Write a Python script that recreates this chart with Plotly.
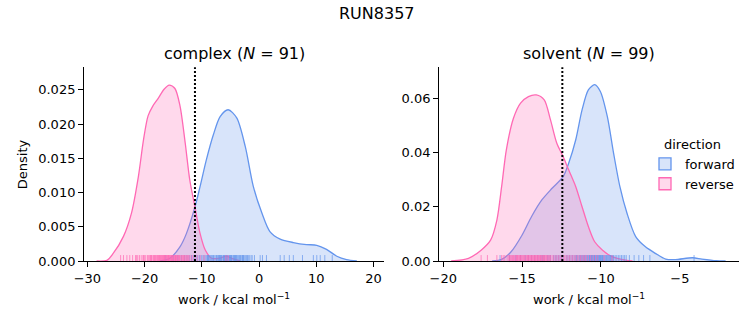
import plotly.graph_objects as go

# ---------------- data ----------------
complex_fwd_x = [-17.3, -15.6, -13.8, -12.7, -11.2, -10.3, -9.2, -8.0, -6.8, -5.4, -3.9, -2.4, -1.0, 0.5, 1.9, 3.7, 6.0, 8.3, 10.1, 11.8, 13.6, 15.3, 17.1]
complex_fwd_y = [0, 0.0004, 0.0021, 0.004, 0.0079, 0.0109, 0.0148, 0.0184, 0.0211, 0.0221, 0.0209, 0.0167, 0.0109, 0.007, 0.0043, 0.0032, 0.0027, 0.0024, 0.0023, 0.0017, 0.0007, 0.0002, 0]
complex_rev_x = [-28.4, -26.6, -25.5, -23.7, -22.3, -21.1, -20.2, -19.4, -18.6, -17.6, -16.6, -15.7, -14.7, -13.8, -12.9, -12.1, -11.2, -10.3, -9.4, -8.3, -7.0, -5.7, -4.5, -3.3]
complex_rev_y = [0, 0.0001, 0.0011, 0.0036, 0.007, 0.0123, 0.0177, 0.0212, 0.0226, 0.0238, 0.0251, 0.0257, 0.0252, 0.0226, 0.0172, 0.0118, 0.0079, 0.004, 0.0016, 0.0004, 0.0004, 0.0007, 0.0003, 0]

solvent_fwd_x = [-16.9, -16.3, -15.7, -15.0, -14.4, -13.75, -13.1, -12.4, -12.05, -11.6, -11.2, -10.8, -10.4, -10.04, -9.6, -9.2, -8.8, -8.35, -7.8, -7.2, -6.55, -5.9, -5.3, -4.2, -3.6, -2.7, -2.1]
solvent_fwd_y = [0, 0.0006, 0.0034, 0.0096, 0.0164, 0.0225, 0.0268, 0.0311, 0.036, 0.0447, 0.0557, 0.0631, 0.065, 0.0625, 0.0533, 0.0397, 0.0274, 0.0176, 0.009, 0.0053, 0.0028, 0.0007, 0.0005, 0.0012, 0.0007, 0.0001, 0]
solvent_rev_x = [-19.5, -18.4, -17.6, -17.0, -16.6, -16.3, -16.0, -15.55, -15.1, -14.6, -14.1, -13.6, -13.2, -12.8, -12.4, -12.05, -11.6, -11.2, -10.8, -10.4, -9.9, -9.3, -8.7, -8.0]
solvent_rev_y = [0, 0.001, 0.004, 0.0077, 0.0151, 0.0274, 0.041, 0.0526, 0.0582, 0.0606, 0.0612, 0.0594, 0.052, 0.0434, 0.0385, 0.0336, 0.0274, 0.02, 0.0127, 0.0071, 0.004, 0.0016, 0.0006, 0]

complex_rug_fwd = [-16.3, -15.0, -14.2, -13.6, -13.0, -12.6, -12.2, -11.8, -11.4, -11.0, -10.7, -10.4, -10.1, -9.8, -9.6, -9.3, -9.1, -8.9, -8.7, -8.5, -8.3, -8.1, -7.9, -7.7, -7.5, -7.3, -7.1, -6.9, -6.7, -6.5, -6.3, -6.1, -6.0, -5.8, -5.6, -5.5, -5.3, -5.1, -5.0, -4.8, -4.7, -4.5, -4.3, -4.2, -4.0, -3.8, -3.6, -3.4, -3.2, -3.0, -2.8, -2.6, -2.4, -2.2, -2.0, -1.7, -1.4, 0.2, 0.6, 1.3, 3.7, 4.4, 5.3, 6.0, 7.6, 9.5, 10.1, 10.7, 11.5, 12.8,
                   -8.8, -7.4, -6.6, -5.7, -4.9, -4.1, -3.3, -2.7, -6.2, -5.2, -7.0, -8.0, -9.0, -4.4, -5.9, -3.9, -6.8, -2.9, -1.9, -1.2, -0.8]
complex_rug_rev = [-24.2, -23.7, -23.1, -22.6, -22.1, -21.6, -21.2, -20.9, -20.6, -20.3, -20.0, -19.8, -19.5, -19.3, -19.1, -18.9, -18.7, -18.5, -18.3, -18.1, -17.9, -17.8, -17.6, -17.4, -17.3, -17.1, -17.0, -16.8, -16.7, -16.5, -16.4, -16.2, -16.1, -15.9, -15.8, -15.6, -15.5, -15.3, -15.2, -15.0, -14.9, -14.7, -14.6, -14.4, -14.2, -14.0, -13.8, -13.6, -13.4, -13.2, -13.0, -12.8, -12.5, -12.2, -11.9, -11.6, -11.2, -10.8, -10.3, -9.6, -5.8, -5.4,
                   -19.0, -18.4, -17.7, -17.2, -16.9, -16.6, -16.3, -16.0, -15.7, -15.4, -15.1, -14.8, -14.5, -14.3, -14.1, -13.9, -13.5, -13.1, -12.7, -12.3, -18.8, -18.2, -17.5, -16.5, -15.8, -15.2, -14.6, -20.2, -21.4]
solvent_rug_fwd = [-16.4, -15.8, -15.4, -15.1, -14.8, -14.6, -14.4, -14.2, -14.0, -13.8, -13.6, -13.4, -13.2, -13.0, -12.8, -12.6, -12.4, -12.2, -12.0, -11.9, -11.7, -11.6, -11.5, -11.4, -11.3, -11.2, -11.1, -11.0, -10.9, -10.85, -10.8, -10.75, -10.7, -10.65, -10.6, -10.55, -10.5, -10.45, -10.4, -10.35, -10.3, -10.25, -10.2, -10.15, -10.1, -10.05, -10.0, -9.95, -9.9, -9.85, -9.8, -9.7, -9.6, -9.5, -9.4, -9.3, -9.2, -9.1, -9.0, -8.9, -8.8, -8.6, -8.4, -8.2, -7.9, -7.6, -7.3, -6.9, -4.1,
                   -13.3, -12.9, -12.5, -12.1, -11.8, -11.55, -11.35, -11.15, -10.95, -10.72, -10.62, -10.52, -10.42, -10.32, -10.22, -10.12, -10.02, -9.92, -9.75, -9.65, -9.55, -9.45, -9.35, -9.25, -11.05, -11.25, -12.7, -13.7, -8.7, -8.5]
solvent_rug_rev = [-17.6, -17.2, -16.6, -16.3, -16.1, -15.95, -15.8, -15.7, -15.6, -15.5, -15.4, -15.3, -15.2, -15.1, -15.0, -14.9, -14.8, -14.7, -14.6, -14.5, -14.4, -14.3, -14.2, -14.1, -14.0, -13.9, -13.8, -13.7, -13.6, -13.5, -13.4, -13.3, -13.2, -13.0, -12.8, -12.6, -12.5, -12.3, -12.1, -11.9, -11.7, -11.5, -11.3, -11.1, -10.8, -10.5, -10.2, -9.8, -9.3,
                   -15.85, -15.75, -15.65, -15.55, -15.45, -15.35, -15.25, -15.15, -15.05, -14.95, -14.85, -14.75, -14.65, -14.55, -14.45, -14.35, -14.25, -14.15, -14.05, -13.95, -13.85, -13.75, -13.65, -13.55, -13.45, -13.35, -13.25, -13.1, -12.9, -12.7, -12.4, -12.2, -12.0, -11.8, -11.6, -11.4, -11.2, -10.95, -10.65, -10.35, -14.62, -14.42, -14.22, -14.02, -13.82, -15.12, -15.32, -13.62, -16.2, -11.0]

complex_vline = -11.2
solvent_vline = -12.45

complex_title = "complex (<i>N</i> = 91)"
solvent_title = "solvent (<i>N</i> = 99)"
suptitle = "RUN8357"
xlabel = "work / kcal mol<sup>−1</sup>"
ylabel = "Density"
legend_title = "direction"
series_names = ["forward", "reverse"]

complex_xticks = [-30, -20, -10, 0, 10, 20]
complex_yticks = [0.0, 0.005, 0.010, 0.015, 0.020, 0.025]
solvent_xticks = [-20, -15, -10, -5]
solvent_yticks = [0.0, 0.02, 0.04, 0.06]

# ---------------- style ----------------
W, H = 753, 325
BLUE = "rgb(100,149,237)"
BLUE_F = "rgba(100,149,237,0.25)"
PINK = "rgb(255,105,180)"
PINK_F = "rgba(255,105,180,0.25)"
BLUE_LEG = "rgb(216,228,250)"
PINK_LEG = "rgb(255,217,236)"
FONT = "DejaVu Sans"

L1, R1 = 84, 384
L2, R2 = 439, 739
TOP, BOT = 67.3, 261

def px(x):
    return x / W

def py(y):
    return 1 - y / H

fig = go.Figure()

def add_panel(xa, ya, ya_rug, fx, fy, rx, ry, rug_f, rug_r):
    fig.add_trace(go.Scatter(x=fx, y=fy, mode="lines", line=dict(color=BLUE, width=1.3, shape="spline", smoothing=0.8),
                             fill="tozeroy", fillcolor=BLUE_F, name=series_names[0],
                             showlegend=False, xaxis=xa, yaxis=ya))
    fig.add_trace(go.Scatter(x=rx, y=ry, mode="lines", line=dict(color=PINK, width=1.3, shape="spline", smoothing=0.8),
                             fill="tozeroy", fillcolor=PINK_F, name=series_names[1],
                             showlegend=False, xaxis=xa, yaxis=ya))
    rug_h = 2.45 / (BOT - TOP)
    fig.add_trace(go.Scatter(x=rug_f, y=[rug_h] * len(rug_f), mode="markers",
                             marker=dict(symbol="line-ns", size=5, line=dict(color="rgba(100,149,237,0.7)", width=1)),
                             showlegend=False, xaxis=xa, yaxis=ya_rug, hoverinfo="skip", cliponaxis=False))
    fig.add_trace(go.Scatter(x=rug_r, y=[rug_h] * len(rug_r), mode="markers",
                             marker=dict(symbol="line-ns", size=5, line=dict(color="rgba(255,105,180,0.7)", width=1)),
                             showlegend=False, xaxis=xa, yaxis=ya_rug, hoverinfo="skip", cliponaxis=False))

add_panel("x", "y", "y3", complex_fwd_x, complex_fwd_y, complex_rev_x, complex_rev_y, complex_rug_fwd, complex_rug_rev)
add_panel("x2", "y2", "y4", solvent_fwd_x, solvent_fwd_y, solvent_rev_x, solvent_rev_y, solvent_rug_fwd, solvent_rug_rev)

# legend entries (patches like the reference)
for name, fc, lc in [(series_names[0], BLUE_LEG, BLUE), (series_names[1], PINK_LEG, PINK)]:
    fig.add_trace(go.Scatter(x=[None], y=[None], mode="markers", name=name,
                             marker=dict(symbol="square", size=12, color=fc, line=dict(color=lc, width=1.3)),
                             xaxis="x2", yaxis="y2", showlegend=True))

fig.add_shape(type="line", xref="x", yref="y domain", x0=complex_vline, x1=complex_vline, y0=0, y1=1,
              line=dict(color="black", width=2, dash="2px,2px"))
fig.add_shape(type="line", xref="x2", yref="y2 domain", x0=solvent_vline, x1=solvent_vline, y0=0, y1=1,
              line=dict(color="black", width=2, dash="2px,2px"))

ax_common = dict(showline=True, linecolor="black", linewidth=1.1, ticks="outside", ticklen=4.9, tickwidth=1.1,
                 tickcolor="black", showgrid=False, zeroline=False, automargin=False,
                 tickfont=dict(family=FONT, size=13, color="black"))
ydom = [py(BOT), py(TOP)]
fig.update_layout(
    xaxis=dict(domain=[px(L1), px(R1)], range=[-30.6, 21.85], tickvals=complex_xticks, anchor="y", **ax_common),
    yaxis=dict(domain=ydom, range=[0, 0.0283], tickvals=complex_yticks, tickformat=".3f", anchor="x", **ax_common),
    xaxis2=dict(domain=[px(L2), px(R2)], range=[-20.27, -1.25], tickvals=solvent_xticks, anchor="y2", **ax_common),
    yaxis2=dict(domain=ydom, range=[0, 0.0714], tickvals=solvent_yticks, tickformat=".2f", anchor="x2", **ax_common),
    yaxis3=dict(domain=ydom, range=[0, 1], overlaying="y", anchor="x", visible=False),
    yaxis4=dict(domain=ydom, range=[0, 1], overlaying="y2", anchor="x2", visible=False),
)

annots = [
    (suptitle, 376.5, 13, 16, 0),
    (complex_title, (L1 + R1) / 2, 54, 16, 0),
    (solvent_title, (L2 + R2) / 2, 54, 16, 0),
    (xlabel, (L1 + R1) / 2, 299, 13, 0),
    (xlabel, (L2 + R2) / 2, 299, 13, 0),
    (ylabel, 22, (TOP + BOT) / 2, 13, -90),
]
for text, ax_, ay_, size, ang in annots:
    fig.add_annotation(xref="paper", yref="paper", x=px(ax_), y=py(ay_), xanchor="center", yanchor="middle",
                       showarrow=False, text=text, textangle=ang,
                       font=dict(family=FONT, size=size, color="black"))

fig.update_layout(
    width=W, height=H, margin=dict(l=0, r=0, t=0, b=0),
    paper_bgcolor="white", plot_bgcolor="white",
    font=dict(family=FONT, size=13, color="black"),
    legend=dict(x=px(645), y=py(132), xanchor="left", yanchor="top", bgcolor="rgba(0,0,0,0)",
                title=dict(text=legend_title, side="top center", font=dict(size=13)),
                font=dict(size=13), itemwidth=30, tracegroupgap=0),
)

fig.write_html("out.html")
